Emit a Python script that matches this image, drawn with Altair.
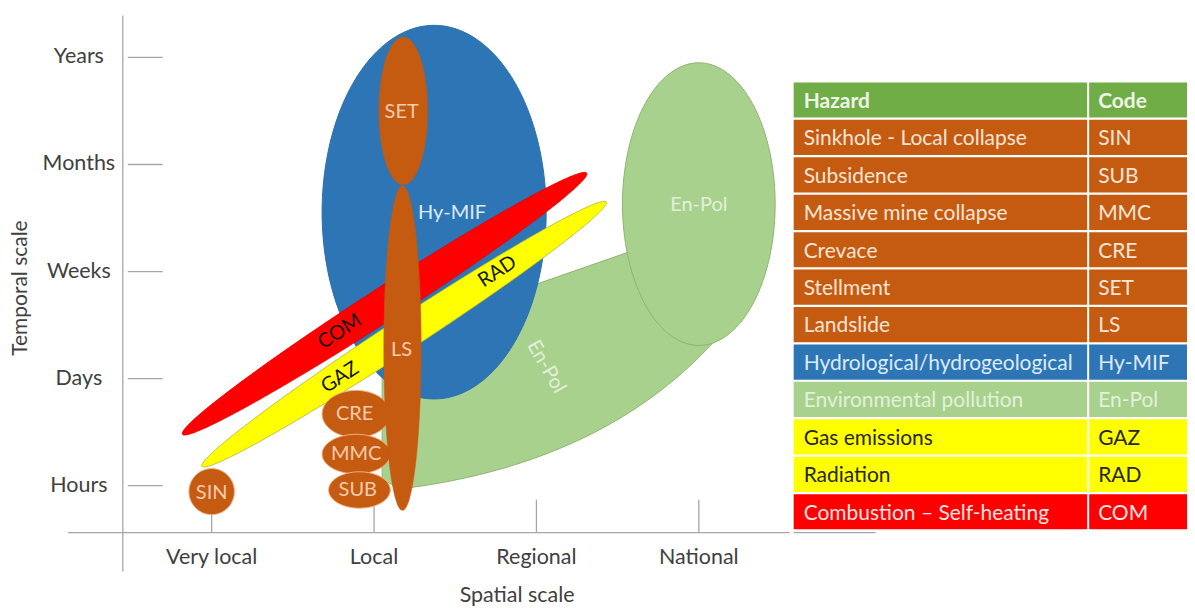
import math
import numpy as np
import pandas as pd
import altair as alt

FONT = "Lato"

# ---------------- values ----------------
SPATIAL_LABELS = ["Very local", "Local", "Regional", "National"]          # spatial scale 1..4
TEMPORAL_LABELS = ["Hours", "Days", "Weeks", "Months", "Years"]            # temporal scale 1..5

# upright hazard domains: spatial extent and temporal extent (scale units)
ELL_CODES = ["En-Pol", "Hy-MIF", "CRE", "MMC", "SUB", "SET", "LS", "SIN"]
ELL_S_FROM = [3.53, 1.68, 1.68, 1.68, 1.72, 2.03, 2.06, 0.86]
ELL_S_TO = [4.47, 3.06, 2.10, 2.10, 2.10, 2.33, 2.29, 1.14]
ELL_T_FROM = [2.31, 1.81, 1.45, 1.11, 0.79, 3.81, 0.77, 0.73]
ELL_T_TO = [4.95, 5.30, 1.89, 1.48, 1.13, 5.19, 3.80, 1.16]

# diagonal hazard domains (tip to tip) and their temporal half-thickness
BAND_CODES = ["GAZ/RAD", "COM"]
BAND_S_FROM = [0.94, 0.82]
BAND_T_FROM = [1.18, 1.48]
BAND_S_TO = [3.43, 3.31]
BAND_T_TO = [3.65, 3.92]
BAND_HALF_T = [0.18, 0.185]

# lower En-Pol branch outline anchors (scale units)
TAIL_S = [2.16, 3.40, 4.09, 4.15, 2.05, 2.05]
TAIL_T = [0.97, 1.20, 2.34, 3.49, 2.38, 1.06]

# labels inside the diagram
LABEL_TEXT = ["SET", "Hy-MIF", "LS", "COM", "GAZ", "RAD", "CRE", "MMC", "SUB", "SIN", "En-Pol", "En-Pol"]
LABEL_S = [2.17, 2.48, 2.17, 1.79, 1.79, 2.76, 1.88, 1.89, 1.90, 1.00, 4.00, 3.06]
LABEL_T = [4.49, 3.55, 2.27, 2.44, 2.01, 3.00, 1.67, 1.30, 0.96, 0.93, 3.62, 2.11]
LABEL_ANGLE = [0, 0, 0, 327, 327, 327, 0, 0, 0, 0, 0, 60]

# legend table
HAZARDS = ["Hazard", "Sinkhole - Local collapse", "Subsidence", "Massive mine collapse",
           "Crevace", "Stellment", "Landslide", "Hydrological/hydrogeological",
           "Environmental pollution", "Gas emissions", "Radiation",
           "Combustion \u2013 Self-heating"]
CODES = ["Code", "SIN", "SUB", "MMC", "CRE", "SET", "LS", "Hy-MIF", "En-Pol", "GAZ", "RAD", "COM"]

# ---------------- styles ----------------
BROWN, BLUE, GREEN, YELLOW, RED = "#C55A11", "#2E75B6", "#A9D18E", "#FFFF00", "#FF0000"
ROW_FILLS = ["#70AD47"] + [BROWN] * 6 + [BLUE, GREEN, YELLOW, YELLOW, RED]
ROW_INKS = ["#EEF5E8"] + ["#FBE5D6"] * 6 + ["#DDEBF7", "#E2F0D9", "#262626", "#262626", "#FFE3E3"]
SHAPE_STYLE = {
    "tail": (GREEN, "#8DB56F", 1),
    "En-Pol": (GREEN, "#8DB56F", 1),
    "Hy-MIF": (BLUE, "#2C6FAD", 1),
    "GAZ/RAD": (YELLOW, "#A8B83C", 0.8),
    "COM": (RED, "#E60000", 0.8),
    "SET": (BROWN, BROWN, 0.5),
    "LS": (BROWN, BROWN, 0.5),
    "CRE": (BROWN, "#F4B183", 1),
    "MMC": (BROWN, "#F4B183", 1),
    "SUB": (BROWN, "#F4B183", 1),
    "SIN": (BROWN, "#F4B183", 1),
}
LABEL_INK = ["#F8CBAD", "#DDEBF7", "#F8CBAD", "#141414", "#141414", "#141414",
             "#F8CBAD", "#F8CBAD", "#F8CBAD", "#F8CBAD", "#E2F0D9", "#E2F0D9"]
AXIS_GREY = "#A6A6A6"
TEXT_GREY = "#404040"

# ---------------- layout ----------------
W1, H = 783, 596
XD = [-0.2541, 4.5594]
YD = [-0.1002, 5.4569]
PXS = W1 / (XD[1] - XD[0])
PXT = H / (YD[1] - YD[0])
XS = alt.Scale(domain=XD, nice=False, zero=False)
YS = alt.Scale(domain=YD, nice=False, zero=False)


def upright(s0, s1, t0, t1, n=120):
    ph = np.linspace(0, 2 * np.pi, n)
    cs, ct = (s0 + s1) / 2, (t0 + t1) / 2
    return cs + (s1 - s0) / 2 * np.cos(ph), ct + (t1 - t0) / 2 * np.sin(ph)


def tilted(s0, t0, s1, t1, half_t, n=160):
    x0, y0, x1, y1 = s0 * PXS, t0 * PXT, s1 * PXS, t1 * PXT
    cx, cy = (x0 + x1) / 2, (y0 + y1) / 2
    a = math.hypot(x1 - x0, y1 - y0) / 2
    ang = math.atan2(y1 - y0, x1 - x0)
    b = half_t * PXT * math.cos(ang)
    ph = np.linspace(0, 2 * np.pi, n)
    x = cx + a * np.cos(ph) * math.cos(ang) - b * np.sin(ph) * math.sin(ang)
    y = cy + a * np.cos(ph) * math.sin(ang) + b * np.sin(ph) * math.cos(ang)
    return x / PXS, y / PXT


def tail_outline(n=60):
    u = np.linspace(0, 1, n)
    s = (1 - u) ** 2 * TAIL_S[0] + 2 * u * (1 - u) * TAIL_S[1] + u ** 2 * TAIL_S[2]
    t = (1 - u) ** 2 * TAIL_T[0] + 2 * u * (1 - u) * TAIL_T[1] + u ** 2 * TAIL_T[2]
    s = np.concatenate([s, TAIL_S[3:], [TAIL_S[0]]])
    t = np.concatenate([t, TAIL_T[3:], [TAIL_T[0]]])
    return s, t


shapes = {"tail": tail_outline()}
for c, s0, s1, t0, t1 in zip(ELL_CODES, ELL_S_FROM, ELL_S_TO, ELL_T_FROM, ELL_T_TO):
    shapes[c] = upright(s0, s1, t0, t1)
for c, s0, t0, s1, t1, h in zip(BAND_CODES, BAND_S_FROM, BAND_T_FROM, BAND_S_TO, BAND_T_TO, BAND_HALF_T):
    shapes[c] = tilted(s0, t0, s1, t1, h)

DRAW_ORDER = ["tail", "En-Pol", "Hy-MIF", "GAZ/RAD", "COM", "CRE", "MMC", "SUB", "SET", "LS", "SIN"]

X = lambda f: alt.X(f, scale=XS, axis=None)
Y = lambda f: alt.Y(f, scale=YS, axis=None)

layers = []

# axis lines and tick lines (all as rule segments)
nt, ns = len(TEMPORAL_LABELS), len(SPATIAL_LABELS)
rule_df = pd.DataFrame({
    "s": [0.4529, 0.1148] + [0.4836] * nt + list(range(1, ns + 1)),
    "s2": [0.4529, XD[1]] + [0.6988] * nt + list(range(1, ns + 1)),
    "t": [0.1981, 0.5618] + list(range(1, nt + 1)) + [0.5618] * ns,
    "t2": [5.3916, 0.5618] + list(range(1, nt + 1)) + [0.8695] * ns,
})
layers.append(alt.Chart(rule_df).mark_rule(color=AXIS_GREY, strokeWidth=1.3).encode(
    x=X("s:Q"), x2="s2:Q", y=Y("t:Q"), y2="t2:Q"))

# hazard shapes
for name in DRAW_ORDER:
    s, t = shapes[name]
    df = pd.DataFrame({"s": s, "t": t, "i": np.arange(len(s))})
    fill, stroke, sw = SHAPE_STYLE[name]
    layers.append(alt.Chart(df).mark_line(fill=fill, stroke=stroke, strokeWidth=sw,
                                          interpolate="linear").encode(
        x=X("s:Q"), y=Y("t:Q"), order="i:Q"))

# labels inside the diagram
lab_df = pd.DataFrame({"text": LABEL_TEXT, "s": LABEL_S, "t": LABEL_T,
                       "angle": LABEL_ANGLE, "ink": LABEL_INK})
layers.append(alt.Chart(lab_df).mark_text(font=FONT, fontSize=20, baseline="middle", align="center").encode(
    x=X("s:Q"), y=Y("t:Q"), text="text:N",
    angle=alt.Angle("angle:Q", scale=None), color=alt.Color("ink:N", scale=None)))

# tick labels and axis titles
txt_df = pd.DataFrame({
    "text": TEMPORAL_LABELS + SPATIAL_LABELS + ["Temporal scale", "Spatial scale"],
    "s": [0.1824] * nt + list(range(1, ns + 1)) + [-0.1711, 2.881],
    "t": list(range(1, nt + 1)) + [0.3287] * ns + [2.846, -0.030],
    "angle": [0] * (nt + ns) + [270, 0],
    "size": [21.5] * (nt + ns) + [21, 21.5],
})
layers.append(alt.Chart(txt_df).mark_text(font=FONT, color=TEXT_GREY,
                                          baseline="middle", align="center").encode(
    x=X("s:Q"), y=Y("t:Q"), text="text:N", angle=alt.Angle("angle:Q", scale=None),
    size=alt.Size("size:Q", scale=None)))

diagram = alt.layer(*layers).properties(width=W1, height=H)

# ---------------- legend table ----------------
ROW_STEP = 37.5
nrow = len(HAZARDS)
tdf = pd.DataFrame({"row": list(range(nrow)), "hazard": HAZARDS, "code": CODES,
                    "fill": ROW_FILLS, "ink": ROW_INKS})
tdf["top"] = tdf["row"]
tdf["bot"] = tdf["row"] + 0.94
tdf["mid"] = tdf["row"] + 0.52
TS = alt.Scale(domain=[-74 / ROW_STEP, (H - 74) / ROW_STEP], reverse=True, nice=False, zero=False)
axis_ext = pd.DataFrame({"t": [(525 - 74) / ROW_STEP]})


def column(field, width, pad, extend=0):
    base = alt.Chart(tdf)
    parts = []
    if extend:
        parts.append(alt.Chart(axis_ext).mark_rule(color=AXIS_GREY, strokeWidth=1.3).encode(
            y=alt.Y("t:Q", scale=TS, axis=None), x=alt.value(0), x2=alt.value(extend)))
    parts.append(base.mark_rect().encode(
        y=alt.Y("top:Q", scale=TS, axis=None), y2="bot:Q",
        x=alt.value(0), x2=alt.value(width),
        color=alt.Color("fill:N", scale=None)))
    parts.append(base.transform_filter("datum.row == 0").mark_text(
        font=FONT, fontSize=21, fontWeight="bold", align="left", baseline="middle").encode(
        y=alt.Y("mid:Q", scale=TS, axis=None), x=alt.value(pad), text=f"{field}:N",
        color=alt.Color("ink:N", scale=None)))
    parts.append(base.transform_filter("datum.row > 0").mark_text(
        font=FONT, fontSize=21, align="left", baseline="middle").encode(
        y=alt.Y("mid:Q", scale=TS, axis=None), x=alt.value(pad), text=f"{field}:N",
        color=alt.Color("ink:N", scale=None)))
    return alt.layer(*parts).properties(width=width, height=H)


table = alt.hconcat(column("hazard", 294, 10, extend=82), column("code", 98, 9), spacing=2)

chart = alt.hconcat(diagram, table, spacing=2).properties(
    padding=0).configure_view(stroke=None)

chart.save("out.html", embed_options={"renderer": "svg", "actions": False})
